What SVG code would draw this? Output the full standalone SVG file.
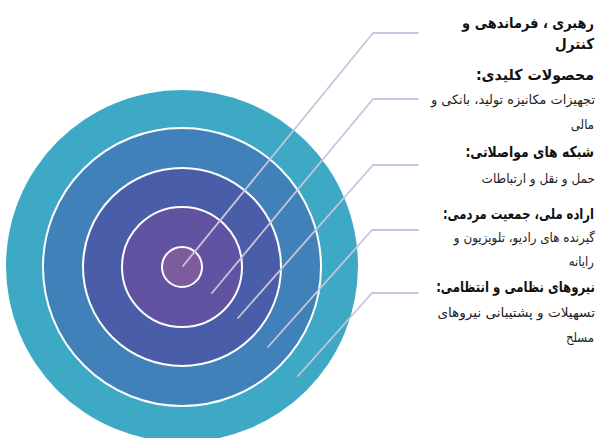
<svg xmlns="http://www.w3.org/2000/svg" width="606" height="438" viewBox="0 0 606 438">
<style>
.ring{stroke:#ffffff;stroke-width:2}
.conn{fill:none;stroke:#CBC3DB;stroke-width:1.8;stroke-linecap:round;stroke-linejoin:round}
.h{font-family:"DejaVu Sans Condensed","DejaVu Sans",sans-serif;font-weight:bold;font-size:15px;fill:#111}
.b{font-family:"DejaVu Sans Condensed","DejaVu Sans",sans-serif;font-size:13px;fill:#222}
text{direction:rtl;unicode-bidi:embed;text-anchor:start}
</style>
<rect width="606" height="438" fill="#ffffff"/>
<g id="target">
<circle id="ring5" cx="182" cy="266" r="176" fill="#3DA9C5"/>
<circle id="ring4" class="ring" cx="182" cy="267" r="139" fill="#4181BA"/>
<circle id="ring3" class="ring" cx="182" cy="267" r="99" fill="#4A5DA9"/>
<circle id="ring2" class="ring" cx="182" cy="267" r="60" fill="#6153A1"/>
<circle id="ring1" class="ring" cx="182" cy="267" r="20" fill="#7D5C9E"/>
</g>
<g id="connectors">
<polyline class="conn" points="183,266 373,33 418,33"/>
<polyline class="conn" points="212,293 373,99 418,99"/>
<polyline class="conn" points="238,318 373,165 418,165"/>
<polyline class="conn" points="268,347 372,230 418,230"/>
<polyline class="conn" points="298,376 372,293 418,293"/>
</g>
<g id="label1">
<text class="h" x="594" y="28" transform="matrix(0.96,0,0,1,23.76,0)">رهبری ، فرماندهی و</text>
<text class="h" x="594" y="49">کنترل</text>
</g>
<g id="label2">
<text class="h" x="594" y="80" transform="matrix(1.05,0,0,1,-29.7,0)">محصولات کلیدی:</text>
<text class="b" x="595" y="104" transform="matrix(1.1,0,0,1,-59.5,0)">تجهیزات مکانیزه تولید، بانکی و</text>
<text class="b" x="594" y="129">مالی</text>
</g>
<g id="label3">
<text class="h" x="594" y="157" transform="matrix(0.92,0,0,1,47.52,0)">شبکه های مواصلاتی:</text>
<text class="b" x="595" y="183" transform="matrix(1.03,0,0,1,-17.85,0)">حمل و نقل و ارتباطات</text>
</g>
<g id="label4">
<text class="h" x="594" y="219" transform="matrix(0.86,0,0,1,83.16,0)">اراده ملی، جمعیت مردمی:</text>
<text class="b" x="595" y="242" transform="matrix(1.02,0,0,1,-11.9,0)">گیرنده های رادیو، تلویزیون و</text>
<text class="b" x="594" y="266">رایانه</text>
</g>
<g id="label5">
<text class="h" x="595" y="292" transform="matrix(0.87,0,0,1,77.35,0)">نیروهای نظامی و انتظامی:</text>
<text class="b" x="595" y="317" transform="matrix(1.16,0,0,1,-95.2,0)">تسهیلات و پشتیبانی نیروهای</text>
<text class="b" x="594" y="342">مسلح</text>
</g>
</svg>
